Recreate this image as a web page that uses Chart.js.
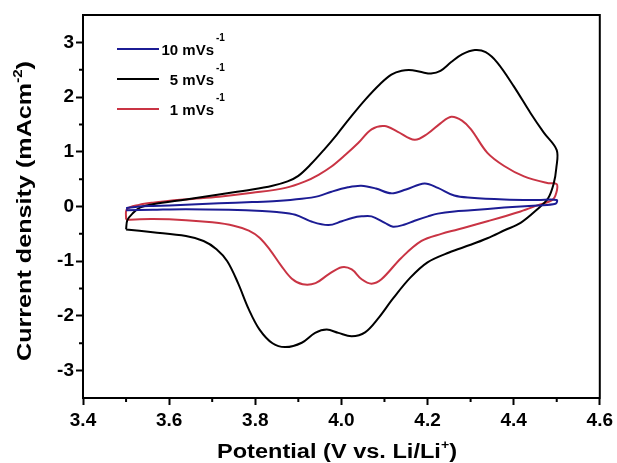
<!DOCTYPE html>
<html>
<head>
<meta charset="utf-8">
<script src="https://cdn.jsdelivr.net/npm/chart.js@4/dist/chart.umd.min.js"></script>
<style>
html,body{margin:0;padding:0;background:#fff;}
#wrap{width:617px;height:463px;position:relative;}
</style>
</head>
<body>
<div id="wrap"><canvas id="c" width="617" height="463"></canvas></div>
<script>
// ---- data ----
const seriesNames = ["10 mVs", "5 mVs", "1 mVs"];
const seriesSup = "-1";
const xTicks = [3.4, 3.6, 3.8, 4.0, 4.2, 4.4, 4.6];
const yTicks = [-3, -2, -1, 0, 1, 2, 3];
const xMinor = [3.5, 3.7, 3.9, 4.1, 4.3, 4.5];
const yMinor = [-2.5, -1.5, -0.5, 0.5, 1.5, 2.5];

// 10 mV/s loop (anodic sweep then cathodic sweep)
const potential10 = [3.5, 3.53, 3.562, 3.639, 3.716, 3.793, 3.85, 3.908, 3.947, 3.977, 4.015, 4.046, 4.08, 4.116, 4.15, 4.193, 4.224, 4.262, 4.301, 4.378, 4.455, 4.5,
  4.497, 4.455, 4.378, 4.301, 4.262, 4.224, 4.201, 4.17, 4.147, 4.12, 4.101, 4.07, 4.047, 4.025, 4.001, 3.97, 3.932, 3.893, 3.85, 3.816, 3.739, 3.639, 3.562, 3.5];
const current10 = [-0.03, 0.0, 0.01, 0.03, 0.06, 0.08, 0.10, 0.14, 0.19, 0.27, 0.35, 0.38, 0.33, 0.24, 0.31, 0.42, 0.34, 0.2, 0.16, 0.13, 0.12, 0.12,
  0.05, 0.02, -0.02, -0.07, -0.09, -0.13, -0.18, -0.26, -0.33, -0.37, -0.3, -0.18, -0.18, -0.21, -0.27, -0.34, -0.28, -0.15, -0.1, -0.08, -0.06, -0.05, -0.06, -0.07];

// 5 mV/s loop
const potential5 = [3.5, 3.503, 3.516, 3.532, 3.562, 3.639, 3.716, 3.793, 3.84, 3.875, 3.9, 3.93, 3.96, 3.99, 4.02, 4.055, 4.09, 4.116, 4.14, 4.165, 4.19, 4.208, 4.23, 4.255, 4.28, 4.31, 4.335, 4.362, 4.4, 4.439, 4.47, 4.5,
  4.499, 4.493, 4.48, 4.455, 4.416, 4.38, 4.339, 4.3, 4.25, 4.2, 4.16, 4.12, 4.085, 4.055, 4.024, 3.993, 3.966, 3.939, 3.908, 3.87, 3.84, 3.81, 3.785, 3.76, 3.735, 3.71, 3.68, 3.639, 3.562, 3.5];
const current5 = [-0.42, -0.25, -0.12, -0.02, 0.04, 0.13, 0.22, 0.31, 0.38, 0.46, 0.56, 0.78, 1.04, 1.32, 1.62, 1.95, 2.24, 2.41, 2.48, 2.49, 2.45, 2.43, 2.48, 2.64, 2.78, 2.86, 2.82, 2.63, 2.2, 1.71, 1.35, 1.03,
  0.7, 0.42, 0.15, -0.05, -0.3, -0.43, -0.58, -0.7, -0.84, -1.02, -1.3, -1.68, -2.05, -2.3, -2.37, -2.31, -2.25, -2.31, -2.49, -2.57, -2.5, -2.25, -1.88, -1.4, -1.0, -0.78, -0.63, -0.54, -0.47, -0.42];

// 1 mV/s loop
const potential1 = [3.5, 3.502, 3.53, 3.562, 3.639, 3.716, 3.793, 3.87, 3.916, 3.947, 3.977, 4.01, 4.039, 4.07, 4.1, 4.13, 4.17, 4.2, 4.23, 4.255, 4.28, 4.301, 4.339, 4.378, 4.424, 4.478, 4.5,
  4.499, 4.49, 4.455, 4.416, 4.339, 4.27, 4.232, 4.186, 4.139, 4.093, 4.07, 4.047, 4.024, 4.001, 3.97, 3.94, 3.91, 3.885, 3.86, 3.835, 3.81, 3.785, 3.75, 3.7, 3.639, 3.562, 3.5];
const current1 = [-0.24, -0.05, 0.03, 0.07, 0.13, 0.18, 0.25, 0.34, 0.46, 0.58, 0.73, 0.95, 1.16, 1.41, 1.47, 1.37, 1.22, 1.33, 1.52, 1.64, 1.57, 1.41, 0.98, 0.74, 0.55, 0.43, 0.41,
  0.25, 0.12, 0.02, -0.09, -0.27, -0.42, -0.5, -0.63, -0.94, -1.33, -1.41, -1.33, -1.15, -1.11, -1.24, -1.4, -1.42, -1.32, -1.08, -0.8, -0.57, -0.44, -0.35, -0.29, -0.25, -0.23, -0.24];

const seriesColors = ["#1c1c94", "#000000", "#c93444"];
const seriesX = [potential10, potential5, potential1];
const seriesY = [current10, current5, current1];

const FONT = '"Liberation Sans", Arial, sans-serif';

function toPoints(xs, ys) { return xs.map((x, i) => ({ x: x, y: ys[i] })); }

const datasets = seriesNames.map((n, i) => ({
  label: n + seriesSup,
  data: toPoints(seriesX[i], seriesY[i]),
  showLine: true,
  borderColor: seriesColors[i],
  backgroundColor: seriesColors[i],
  borderWidth: 2,
  pointRadius: 0,
  tension: 0.35,
  fill: false
}));

function drawParts(ctx, parts, x, y, targetWidth) {
  let total = 0;
  parts.forEach(p => { ctx.font = p.f; total += ctx.measureText(p.t).width; });
  const s = targetWidth ? targetWidth / total : 1;
  ctx.save();
  ctx.translate(x, y);
  ctx.scale(s, 1);
  let cx = 0;
  parts.forEach(p => {
    ctx.font = p.f;
    ctx.fillText(p.t, cx, p.dy);
    cx += ctx.measureText(p.t).width;
  });
  ctx.restore();
}

const decor = {
  id: 'decor',
  afterDraw(chart) {
    const ctx = chart.ctx;
    const a = chart.chartArea;
    const xs = chart.scales.x, ys = chart.scales.y;
    ctx.save();
    ctx.strokeStyle = '#000';
    ctx.fillStyle = '#000';
    ctx.lineWidth = 2;
    ctx.strokeRect(a.left, a.top, a.right - a.left, a.bottom - a.top);
    // minor ticks
    ctx.beginPath();
    xMinor.forEach(v => { const p = xs.getPixelForValue(v); ctx.moveTo(p, a.bottom); ctx.lineTo(p, a.bottom + 4); });
    yMinor.forEach(v => { const p = ys.getPixelForValue(v); ctx.moveTo(a.left, p); ctx.lineTo(a.left - 4, p); });
    ctx.stroke();
    // legend
    seriesNames.forEach((n, i) => {
      const ly = 49 + 30 * i;
      ctx.strokeStyle = seriesColors[i];
      ctx.lineWidth = 2;
      ctx.beginPath(); ctx.moveTo(117, ly); ctx.lineTo(159, ly); ctx.stroke();
      ctx.fillStyle = '#000';
      ctx.textAlign = 'right';
      ctx.textBaseline = 'alphabetic';
      ctx.font = 'bold 15px ' + FONT;
      ctx.fillText(n, 214, ly + 6);
      ctx.textAlign = 'left';
      ctx.font = 'bold 10px ' + FONT;
      ctx.fillText(seriesSup, 216, ly - 8);
    });
    // axis titles
    ctx.textAlign = 'left';
    ctx.textBaseline = 'alphabetic';
    ctx.fillStyle = '#000';
    const big = 'bold 20px ' + FONT, sm = 'bold 12px ' + FONT;
    drawParts(ctx, [{t: 'Potential (V vs. Li/Li', f: big, dy: 0}, {t: '+', f: sm, dy: -9}, {t: ')', f: big, dy: 0}], 217, 457.5, 240);
    ctx.save();
    ctx.translate(31, 361);
    ctx.rotate(-Math.PI / 2);
    drawParts(ctx, [{t: 'Current density (mAcm', f: big, dy: 0}, {t: '-2', f: sm, dy: -9}, {t: ')', f: big, dy: 0}], 0, 0, 300);
    ctx.restore();
    ctx.restore();
  }
};

new Chart(document.getElementById('c'), {
  type: 'scatter',
  data: { datasets: datasets },
  options: {
    responsive: false,
    animation: false,
    layout: { padding: { left: 0, right: 14, top: 15, bottom: 0 } },
    plugins: { legend: { display: false }, tooltip: { enabled: false }, title: { display: false } },
    scales: {
      x: {
        type: 'linear', min: 3.4, max: 4.6,
        afterBuildTicks: s => { s.ticks = xTicks.map(v => ({ value: v })); },
        afterFit: s => { s.height = 65; },
        ticks: { callback: v => Number(v).toFixed(1), color: '#000', font: { family: FONT, size: 19, weight: 'bold' }, padding: 4, maxRotation: 0, autoSkip: false },
        grid: { display: true, drawOnChartArea: false, drawTicks: true, tickLength: 7, tickWidth: 2, tickColor: '#000' },
        border: { display: true, color: '#000', width: 2 }
      },
      y: {
        type: 'linear', min: -3.5, max: 3.5,
        afterBuildTicks: s => { s.ticks = yTicks.map(v => ({ value: v })); },
        afterFit: s => { s.width = 83; },
        ticks: { callback: v => String(v), color: '#000', font: { family: FONT, size: 19, weight: 'bold' }, padding: 2, autoSkip: false },
        grid: { display: true, drawOnChartArea: false, drawTicks: true, tickLength: 7, tickWidth: 2, tickColor: '#000' },
        border: { display: true, color: '#000', width: 2 }
      }
    }
  },
  plugins: [decor]
});
</script>
</body>
</html>
